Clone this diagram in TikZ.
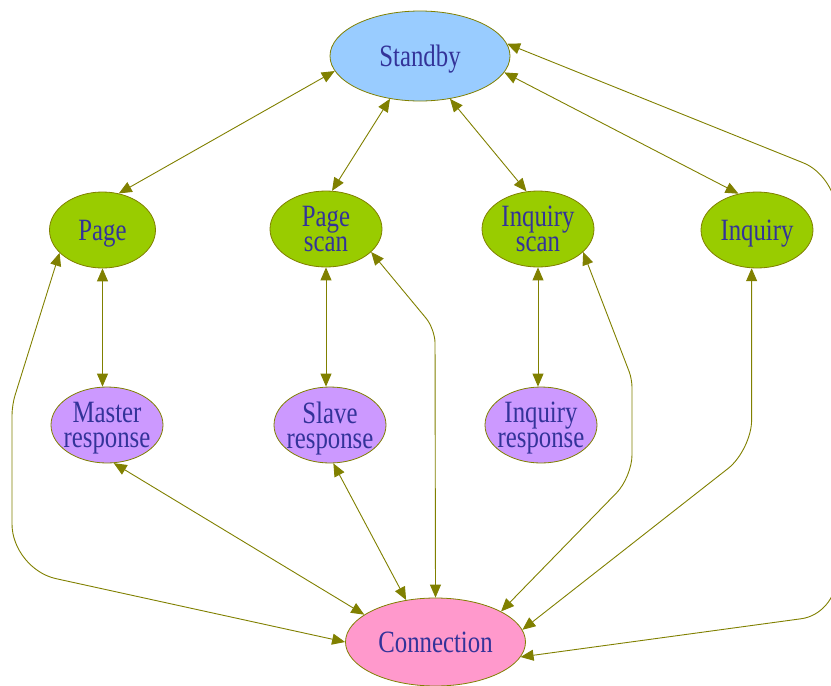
\documentclass[tikz,border=0pt]{standalone}
\usepackage{fontspec}
\setmainfont{Liberation Serif}[FakeStretch=0.8]
\usetikzlibrary{shapes.geometric,arrows.meta}

\definecolor{olivec}{RGB}{128,128,0}
\definecolor{textblue}{RGB}{51,51,153}
\definecolor{skyb}{RGB}{153,204,255}
\definecolor{leaf}{RGB}{153,204,0}
\definecolor{lilac}{RGB}{204,153,255}
\definecolor{rosy}{RGB}{255,153,204}

\begin{document}
\begin{tikzpicture}[x=1pt,y=-1pt,
  state/.style={ellipse, draw=olivec, line width=0.8pt, inner sep=-20pt,
    text=textblue, font=\fontsize{31}{25}\selectfont, align=center,
    text depth=0pt},
  small/.style={state, minimum width=112pt, minimum height=76pt},
  link/.style={draw=olivec, line width=0.9pt,
    {Triangle[length=13pt,width=11pt]}-{Triangle[length=13pt,width=11pt]}},
]
\useasboundingbox (0,0) rectangle (831,686);

% states
\node[state, fill=skyb, minimum width=180pt, minimum height=90pt] (standby) at (420,56) {Standby};
\node[small, fill=leaf, minimum width=106pt] (page) at (102.5,230) {Page};
\node[small, fill=leaf] (pagescan) at (326,229) {Page\\scan};
\node[small, fill=leaf] (inqscan) at (538,229) {Inquiry\\scan};
\node[small, fill=leaf] (inquiry) at (757,230) {Inquiry};
\node[small, fill=lilac] (master) at (107,425) {Master\\response};
\node[small, fill=lilac] (slave) at (330,425) {Slave\\response};
\node[small, fill=lilac] (inqresp) at (541,425) {Inquiry\\response};
\node[state, fill=rosy, minimum width=180pt, minimum height=88pt] (conn) at (435.5,642) {Connection};

% links out of standby
\draw[link] (standby.190.5) -- (page.66);
\draw[link] (standby.235) -- (pagescan.81);
\draw[link] (standby.305) -- (inqscan.107);
\draw[link] (standby.349.5) -- (inquiry.117);

% scan / response pairs
\draw[link] (page.south) -- (page.south |- master.north);
\draw[link] (pagescan.south) -- (pagescan.south |- slave.north);
\draw[link] (inqscan.south) -- (inqscan.south |- inqresp.north);

% links into connection
\draw[link] (master.280) -- (conn.159);
\draw[link] (slave.275) -- (conn.125);
\draw[link, rounded corners=14pt] (pagescan.333) -- (435,329) -- (conn.90);
\draw[link] (inqscan.333) [rounded corners=8pt] -- (632,379) [rounded corners=22pt] -- (632,477) -- (conn.25.6);
\draw[link, rounded corners=30pt] (inquiry.262) -- (inquiry.262 |- 0,450) -- (conn.8.8);
\draw[link] (page.208) [rounded corners=10pt] -- (12,405) [rounded corners=45pt] -- (12,569) -- (conn.180);
\draw[link, rounded corners=35pt] (standby.8.7) -- (836,176) -- (836,614) -- (conn.-10.5);
\end{tikzpicture}
\end{document}
